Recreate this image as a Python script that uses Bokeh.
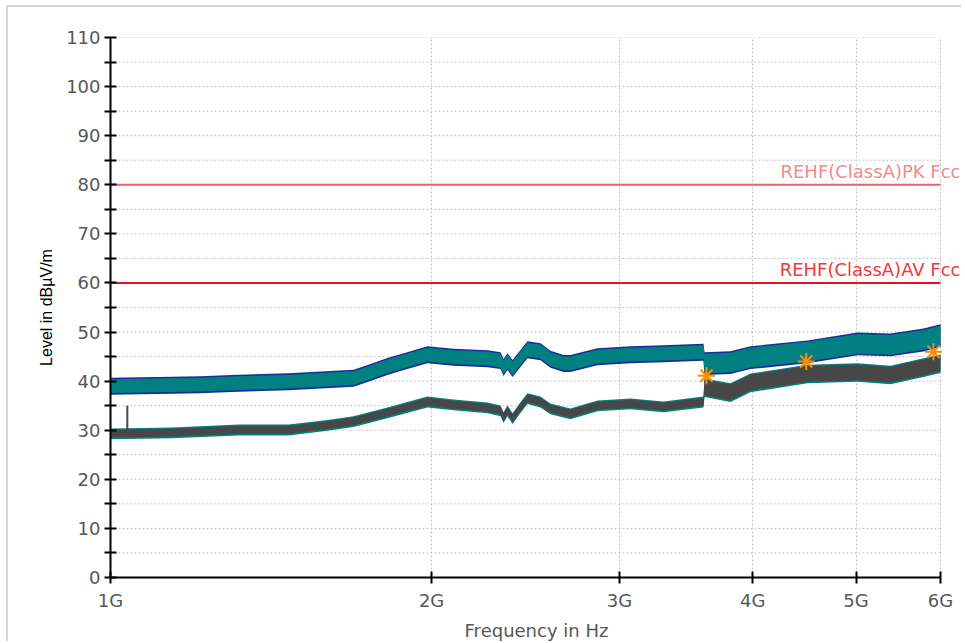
from bokeh.plotting import figure
from bokeh.models import FixedTicker, CustomJSTickFormatter, Label
from bokeh.embed import file_html
from bokeh.resources import INLINE

# ---- data (frequency in GHz, level in dBuV/m) ----
peak_f = [1.000, 1.143, 1.214, 1.318, 1.469, 1.591, 1.690, 1.753, 1.818, 1.870, 1.982, 2.097,
          2.257, 2.321, 2.336, 2.356, 2.382, 2.420, 2.460, 2.530, 2.585, 2.659, 2.699, 2.861,
          3.073, 3.300, 3.597, 3.605, 3.813, 3.981, 4.503, 5.016, 5.387, 5.784, 6.000]
peak_lo = [37.6, 37.8, 37.9, 38.2, 38.5, 38.9, 39.2, 40.4, 41.6, 42.4, 44.0, 43.5,
           43.2, 42.8, 41.4, 42.6, 41.2, 43.1, 45.0, 44.6, 43.1, 42.2, 42.2, 43.6,
           44.0, 44.2, 44.5, 41.6, 41.8, 42.8, 44.0, 45.6, 45.4, 46.4, 47.3]
peak_hi = [40.4, 40.6, 40.7, 41.0, 41.3, 41.7, 42.0, 43.2, 44.4, 45.2, 46.8, 46.3,
           46.0, 45.6, 44.2, 45.4, 44.0, 45.9, 47.8, 47.4, 45.9, 45.0, 45.0, 46.4,
           46.8, 47.0, 47.3, 45.6, 45.8, 46.8, 48.0, 49.6, 49.4, 50.4, 51.3]

avg_f = [1.000, 1.143, 1.318, 1.469, 1.591, 1.690, 1.818, 1.982, 2.097, 2.257, 2.321, 2.336,
         2.356, 2.382, 2.420, 2.460, 2.530, 2.585, 2.699, 2.861, 3.073, 3.300, 3.597, 3.605,
         3.813, 3.981, 4.503, 5.016, 5.387, 5.784, 6.000]
avg_lo = [28.5, 28.7, 29.3, 29.3, 30.2, 31.0, 32.8, 35.0, 34.4, 33.8, 33.2, 31.8,
          33.2, 31.6, 33.7, 35.7, 35.0, 33.6, 32.6, 34.2, 34.6, 34.0, 35.0, 37.1,
          36.1, 38.1, 39.9, 40.2, 39.7, 41.2, 42.0]
avg_hi = [30.1, 30.3, 30.9, 30.9, 31.8, 32.6, 34.4, 36.6, 36.0, 35.4, 34.8, 33.4,
          34.8, 33.2, 35.3, 37.3, 36.6, 35.2, 34.2, 35.8, 36.2, 35.6, 36.6, 40.3,
          39.3, 41.3, 43.1, 43.4, 42.9, 44.4, 45.2]

spike_f = [1.037]
spike_lo = [29.0]
spike_hi = [35.0]

mark_f = [3.62, 4.49, 5.91]
mark_v = [41.1, 44.0, 46.0]

limit_names = ["REHF(ClassA)PK Fcc", "REHF(ClassA)AV Fcc"]
limit_values = [80, 60]
limit_span = [1.0, 6.0]

x_ticks = [1, 2, 3, 4, 5, 6]
y_ticks = list(range(0, 111, 10))
y_minor = list(range(5, 110, 10))

# ---- figure ----
p = figure(width=955, height=636, x_axis_type="log", x_range=(1.0, 6.292), y_range=(0, 110),
           output_backend="svg", toolbar_location=None,
           min_border_left=102, min_border_right=1, min_border_top=30, min_border_bottom=64)
p.outline_line_color = None
p.background_fill_color = "white"
p.border_fill_color = "white"
p.styles = {"margin-left": "6px", "margin-top": "5px",
            "border-left": "2px solid #d6d6d6", "border-top": "2px solid #d6d6d6"}

GRID_COLOR = "#c4c4c4"
# vertical grid lines
p.xgrid.ticker = FixedTicker(ticks=x_ticks, minor_ticks=[])
p.xgrid.bounds = (0, 110)
p.xgrid.grid_line_color = GRID_COLOR
p.xgrid.grid_line_dash = "2 2"
p.xgrid.grid_line_width = 1
p.ygrid.visible = False
# horizontal grid lines (major + minor), spanning 1G..6G only
h_levels = sorted(y_ticks[1:] + y_minor)
p.segment(x0=[limit_span[0]] * len(h_levels), y0=h_levels,
          x1=[limit_span[1]] * len(h_levels), y1=h_levels,
          line_color=GRID_COLOR, line_dash="2 2", line_width=1)

# axes
xa = p.xaxis[0]
xa.ticker = FixedTicker(ticks=x_ticks, minor_ticks=[])
xa.formatter = CustomJSTickFormatter(code="return Math.round(tick) + 'G';")
xa.bounds = (1, 6)
ya = p.yaxis[0]
ya.ticker = FixedTicker(ticks=y_ticks, minor_ticks=y_minor)
for ax in (xa, ya):
    ax.axis_line_color = "black"
    ax.axis_line_width = 2
    ax.major_tick_line_color = "black"
    ax.major_tick_line_width = 2
    ax.major_tick_in = 6
    ax.major_tick_out = 6
    ax.major_label_text_font = "DejaVu Sans"
    ax.major_label_text_font_size = "18px"
    ax.major_label_text_color = "#575757"
ya.minor_tick_line_color = "black"
ya.minor_tick_line_width = 2
ya.minor_tick_in = 6
ya.minor_tick_out = 6
xa.minor_tick_line_color = None
xa.major_label_standoff = 6
ya.major_label_standoff = 4

xa.axis_label = "Frequency in Hz"
xa.axis_label_text_font = "DejaVu Sans"
xa.axis_label_text_font_size = "18px"
xa.axis_label_text_font_style = "normal"
xa.axis_label_text_color = "#575757"
xa.axis_label_standoff = 6

ya.axis_label = "Level in dBµV/m"
ya.axis_label_text_font = "Liberation Sans"
ya.axis_label_text_font_size = "16px"
ya.axis_label_text_font_style = "normal"
ya.axis_label_text_color = "black"
ya.axis_label_standoff = 8

# limit lines
limit_line_colors = ["#f06060", "#e8141e"]
limit_text_colors = ["#f28a8a", "#ee3a3a"]
for name, val, lc, tc in zip(limit_names, limit_values, limit_line_colors, limit_text_colors):
    p.line(limit_span, [val, val], line_color=lc, line_width=2)
    p.add_layout(Label(x=limit_span[1], y=val, x_offset=20, y_offset=3, text=name,
                       text_align="right", text_baseline="bottom",
                       text_font="DejaVu Sans", text_font_size="18px", text_color=tc))

# peak trace (blue edge + teal body)
blue_lo = [v - 0.35 for v in peak_lo]
blue_hi = [v + 0.3 for v in peak_hi]
p.varea(x=peak_f, y1=blue_lo, y2=blue_hi, fill_color="#1a2c9c")
p.varea(x=peak_f, y1=peak_lo, y2=peak_hi, fill_color="#008080")

# average trace (teal edge + dark gray body)
teal_lo = [v - 0.35 for v in avg_lo]
teal_hi = [v + 0.25 for v in avg_hi]
p.varea(x=avg_f, y1=teal_lo, y2=teal_hi, fill_color="#008080")
p.varea(x=avg_f, y1=avg_lo, y2=avg_hi, fill_color="#474747")
p.segment(x0=spike_f, y0=spike_lo, x1=spike_f, y1=spike_hi, line_color="#474747", line_width=2)

# markers
p.scatter(mark_f, mark_v, marker="asterisk", size=17, line_color="#ff8c00", line_width=2)

open("out.html", "w").write(file_html(p, INLINE))
